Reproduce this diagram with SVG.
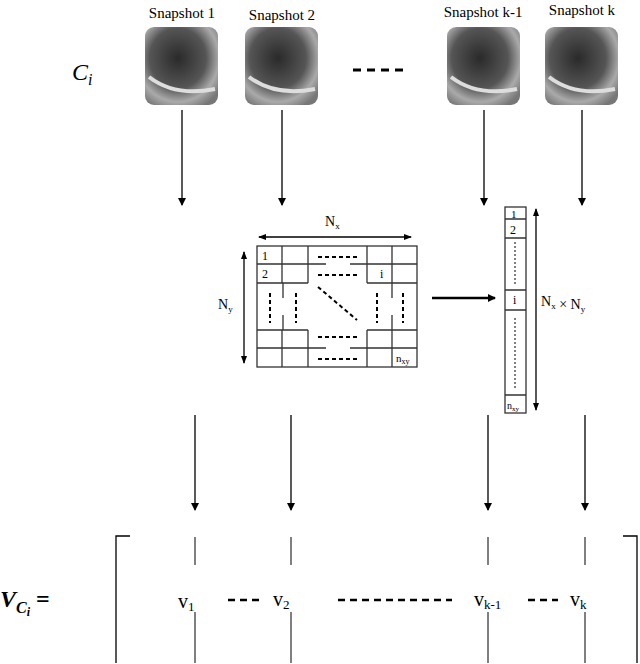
<svg xmlns="http://www.w3.org/2000/svg" width="640" height="664" viewBox="0 0 640 664">
<style>
.s{font-size:15px}
.g{stroke:#333;stroke-width:1.3;fill:none}
.a{stroke:#000;stroke-width:1.3;fill:none}
</style>
<defs>
<marker id="ah" markerWidth="8" markerHeight="8" refX="7" refY="4" orient="auto" markerUnits="userSpaceOnUse"><path d="M0,0 L8,4 L0,8z" fill="#000"/></marker>
<marker id="as" markerWidth="8" markerHeight="8" refX="7" refY="4" orient="auto-start-reverse" markerUnits="userSpaceOnUse"><path d="M0,1 L8,4 L0,7z" fill="#000"/></marker>
<radialGradient id="us" cx="0.45" cy="0.4" r="0.7"><stop offset="0" stop-color="#2a2a2a"/><stop offset="0.55" stop-color="#555"/><stop offset="0.8" stop-color="#aaa"/><stop offset="1" stop-color="#777"/></radialGradient>
<g id="img"><rect width="73" height="78" rx="9" fill="url(#us)"/><path d="M4,50 Q30,70 70,62" stroke="#ddd" stroke-width="4" fill="none"/></g>
</defs>
<g font-family="'Liberation Serif', 'Times New Roman', 'DejaVu Serif', serif" fill="#000">
<g id="snap1"><text class="s" x="182" y="18" text-anchor="middle">Snapshot 1</text><use href="#img" x="145" y="27"/></g>
<g id="snap2"><text class="s" x="282" y="20" text-anchor="middle">Snapshot 2</text><use href="#img" x="245" y="27"/></g>
<g id="snapk1"><text class="s" x="483" y="17" text-anchor="middle">Snapshot k-1</text><use href="#img" x="447" y="27"/></g>
<g id="snapk"><text class="s" x="582" y="15" text-anchor="middle">Snapshot k</text><use href="#img" x="545" y="27"/></g>
<text x="72" y="80" font-size="24" font-style="italic">C<tspan font-size="16" dy="5">i</tspan></text>
<path d="M353,70 H408" stroke="#000" stroke-width="3" stroke-dasharray="8,6"/>
<g id="grid">
<rect x="257" y="246" width="160" height="121" class="g"/>
<path class="g" d="M257,264 H308 M367,264 H417 M257,283 H308 M367,283 H417 M257,330 H308 M367,330 H417 M257,348 H308 M367,348 H417 M282,246 V283 M308,246 V283 M367,246 V283 M392,246 V283 M282,330 V367 M308,330 V367 M367,330 V367 M392,330 V367 M308,264 H326 M350,264 H367 M308,348 H326 M350,348 H367 M283,283 V298 M283,315 V330 M392,283 V298 M392,315 V330"/>
<path stroke="#000" stroke-width="2" stroke-dasharray="4,3" d="M318,257 H358 M318,275 H358 M318,337 H358 M318,359 H358 M318,287 L357,320 M270,293 V323 M296,293 V323 M377,293 V323 M403,293 V323"/>
<text x="262" y="260" font-size="12">1</text><text x="262" y="278" font-size="12">2</text><text x="380" y="278" font-size="12">i</text>
<text x="396" y="362" font-size="11">n<tspan font-size="8" dy="2">xy</tspan></text>
<path class="a" d="M259,237 H411" marker-start="url(#as)" marker-end="url(#as)"/>
<text x="325" y="226" font-size="14">N<tspan font-size="9" dy="3">x</tspan></text>
<path class="a" d="M244,252 V363" marker-start="url(#as)" marker-end="url(#as)"/>
<text x="218" y="309" font-size="14">N<tspan font-size="9" dy="3">y</tspan></text>
</g>
<g id="vec">
<rect x="505" y="207" width="21" height="206" class="g"/>
<path class="g" d="M505,219 H526 M505,238 H526 M505,290 H526 M505,310 H526 M505,395 H526"/>
<path stroke="#000" stroke-width="1" stroke-dasharray="2,2" d="M515,242 V285 M515,318 V388"/>
<text x="511" y="218" font-size="11">1</text><text x="510" y="234" font-size="12">2</text><text x="513" y="304" font-size="12">i</text>
<text x="507" y="409" font-size="10">n<tspan font-size="7" dy="2">xy</tspan></text>
<path class="a" d="M536,209 V410" marker-start="url(#as)" marker-end="url(#as)"/>
<text x="541" y="306" font-size="14">N<tspan font-size="9" dy="3">x</tspan> × N<tspan font-size="9" dy="3">y</tspan></text>
</g>
<g id="connectors">
<path class="a" d="M182,110 V205" marker-end="url(#ah)"/>
<path class="a" d="M282,110 V205" marker-end="url(#ah)"/>
<path class="a" d="M484,110 V205" marker-end="url(#ah)"/>
<path class="a" d="M582,110 V205" marker-end="url(#ah)"/>
<path class="a" d="M195,415 V510" marker-end="url(#ah)"/>
<path class="a" d="M291,415 V510" marker-end="url(#ah)"/>
<path class="a" d="M488,415 V510" marker-end="url(#ah)"/>
<path class="a" d="M585,415 V510" marker-end="url(#ah)"/>
<path d="M432,298 H495" stroke="#000" stroke-width="2.5" marker-end="url(#ah)"/>
</g>
<g id="matrix">
<text x="0" y="607" font-size="24" font-weight="bold" font-style="italic">V<tspan font-size="16" dy="6">C</tspan><tspan font-size="12" dy="3">i</tspan><tspan font-size="24" dy="-9" font-style="normal"> =</tspan></text>
<path class="a" d="M130,536 H116 V663 M623,536 H637 V663"/>
<path stroke="#000" stroke-width="1" d="M195,537 V565 M195,612 V663 M291,537 V565 M291,612 V663 M488,537 V565 M488,612 V663 M585,537 V565 M585,612 V663"/>
<text x="178" y="608" font-size="20">v<tspan font-size="13" dy="3">1</tspan></text>
<text x="273" y="606" font-size="20">v<tspan font-size="13" dy="3">2</tspan></text>
<text x="474" y="606" font-size="20">v<tspan font-size="13" dy="3">k-1</tspan></text>
<text x="570" y="606" font-size="20">v<tspan font-size="13" dy="3">k</tspan></text>
<path stroke="#000" stroke-width="2.5" stroke-dasharray="7,5" d="M228,600 H260 M338,600 H452 M528,600 H558"/>
</g>
</g>
</svg>
